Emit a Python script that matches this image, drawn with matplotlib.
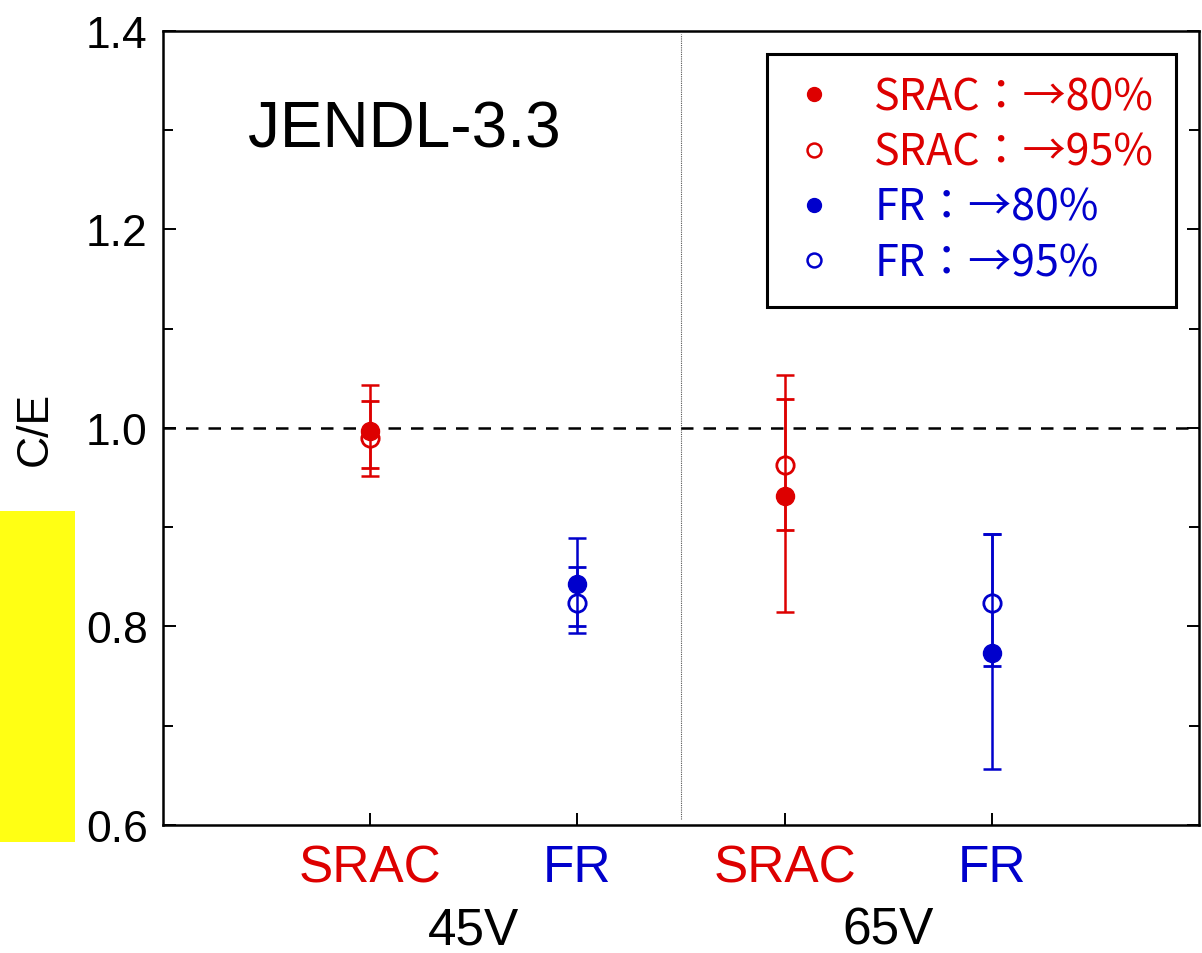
"""
C/E comparison chart, JENDL-3.3, SRAC vs FR at 45V / 65V.
"""
import matplotlib
matplotlib.use("Agg")
import matplotlib.pyplot as plt
from matplotlib.patches import Rectangle
from matplotlib.lines import Line2D

# Data
x_pos = [1, 2, 3, 4]
codes = ["SRAC", "FR", "SRAC", "FR"]
cases = ["45V", "65V"]
case_pos = [1.5, 3.5]

# filled markers (->80%)
ce_80 = [0.997, 0.843, 0.931, 0.773]
err_80_lo = [0.045, 0.050, 0.116, 0.117]
err_80_hi = [0.046, 0.046, 0.122, 0.120]

# open markers (->95%)
ce_95 = [0.990, 0.824, 0.963, 0.824]
err_95_lo = [0.030, 0.024, 0.066, 0.064]
err_95_hi = [0.037, 0.036, 0.066, 0.069]

legend_labels = ["SRAC：→80%", "SRAC：→95%", "FR：→80%", "FR：→95%"]

RED = "#dd0000"
BLUE = "#0000cc"
point_colors = [RED, BLUE, RED, BLUE]

plt.rcParams["font.family"] = ["Liberation Sans", "DejaVu Sans"]

fig = plt.figure(figsize=(12.02, 9.54), dpi=100)
ax = fig.add_axes([0.1356, 0.1342, 0.8619, 0.8323])

# yellow block on the left edge
fig.patches.append(Rectangle((0, 1 - 843 / 954), 75 / 1202, 331 / 954,
                             transform=fig.transFigure, facecolor="#ffff14",
                             edgecolor="none", zorder=0))

# reference lines
ax.axhline(1.0, color="black", lw=1.8, ls=(0, (5, 4)), zorder=1)
ax.axvline(2.5, ymin=0.008, ymax=0.996, color="#555555", lw=0.8, ls=(0, (1, 1)), zorder=1)

for i in range(len(x_pos)):
    c = point_colors[i]
    ax.errorbar(x_pos[i], ce_95[i], yerr=[[err_95_lo[i]], [err_95_hi[i]]],
                fmt="o", color=c, mfc="white", mec=c, mew=2, ms=12.5,
                elinewidth=1.8, capsize=6.5, capthick=1.8, zorder=3)
    ax.errorbar(x_pos[i], ce_80[i], yerr=[[err_80_lo[i]], [err_80_hi[i]]],
                fmt="o", color=c, mfc=c, mec=c, ms=13,
                elinewidth=1.8, capsize=6.5, capthick=1.8, zorder=4)

ax.set_xlim(0, 5)
ax.set_ylim(0.6, 1.4)
ax.set_yticks([0.6, 0.8, 1.0, 1.2, 1.4])
ax.set_yticks([0.7, 0.9, 1.1, 1.3], minor=True)
ax.set_xticks(x_pos)
ax.set_xticklabels(codes)
for lab, c in zip(ax.get_xticklabels(), point_colors):
    lab.set_color(c)

ax.tick_params(axis="y", which="both", direction="in", right=True,
               labelsize=32, pad=11, width=1.4)
ax.tick_params(axis="y", which="major", length=9)
ax.tick_params(axis="y", which="minor", length=7)
ax.tick_params(axis="x", direction="in", length=9, width=1.4,
               labelsize=37, pad=13)

for name, p in zip(cases, case_pos):
    ax.text(p, -0.132, name, transform=ax.get_xaxis_transform(),
            ha="center", va="center", fontsize=37)

ax.set_ylabel("C/E", fontsize=32, labelpad=22)

for s in ax.spines.values():
    s.set_linewidth(1.8)

ax.text(0.41, 1.301, "JENDL-3.3", fontsize=46, ha="left", va="center")

# legend
handles = [
    Line2D([], [], ls="none", marker="o", ms=10, color=RED, mfc=RED),
    Line2D([], [], ls="none", marker="o", ms=10, color=RED, mfc="white", mew=1.8),
    Line2D([], [], ls="none", marker="o", ms=10, color=BLUE, mfc=BLUE),
    Line2D([], [], ls="none", marker="o", ms=10, color=BLUE, mfc="white", mew=1.8),
]
leg = ax.legend(handles, legend_labels, loc="upper right",
                bbox_to_anchor=(0.9775, 0.971), frameon=True, fancybox=False,
                framealpha=1, edgecolor="black", handletextpad=0.8,
                handlelength=1.2, labelspacing=0.26, borderpad=0.5,
                borderaxespad=0,
                prop={"family": ["Noto Sans CJK JP", "DejaVu Sans"], "size": 31})
leg.get_frame().set_linewidth(2.2)
for t, c in zip(leg.get_texts(), [RED, RED, BLUE, BLUE]):
    t.set_color(c)

fig.savefig("out.png", dpi=100)
